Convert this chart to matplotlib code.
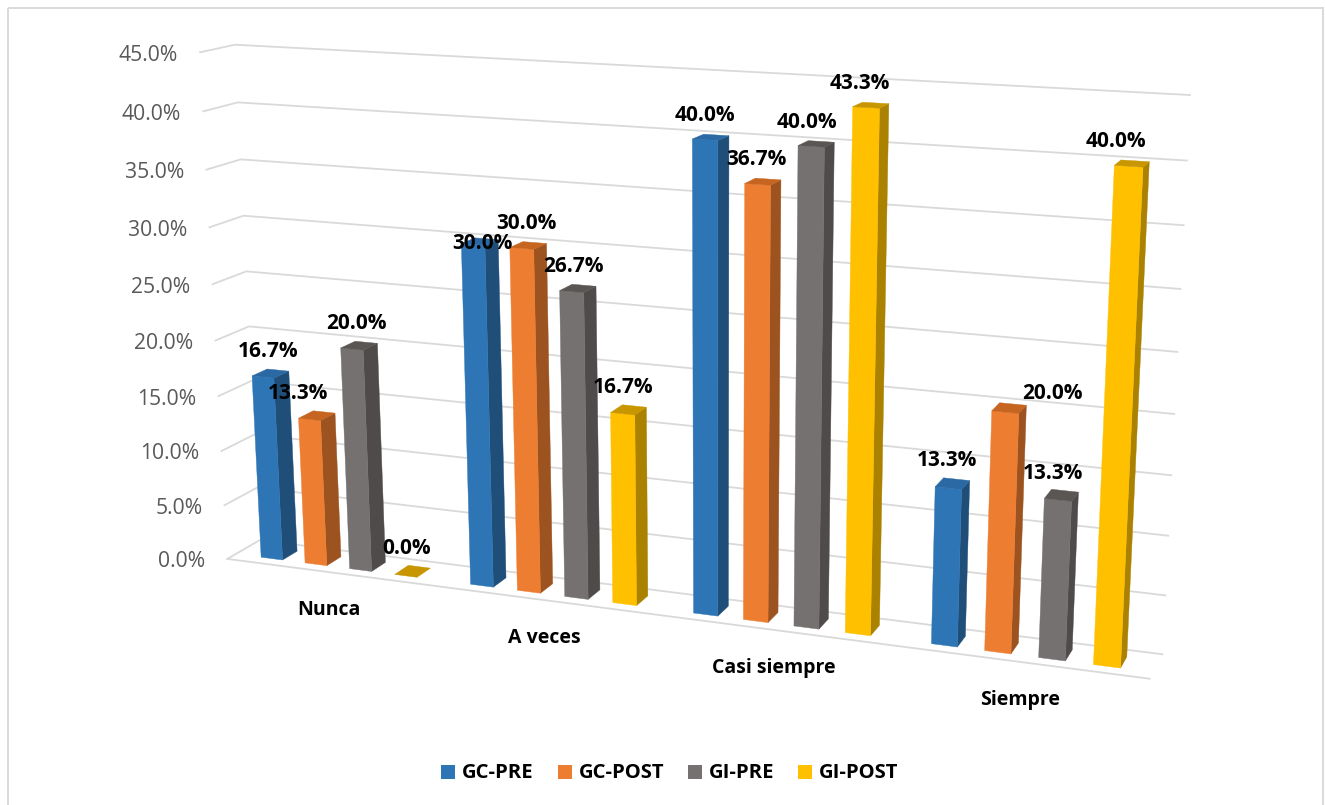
import numpy as np
import matplotlib
matplotlib.use('Agg')
import matplotlib.pyplot as plt
from matplotlib.patches import Polygon, Rectangle

categories = ['Nunca', 'A veces', 'Casi siempre', 'Siempre']
series_names = ['GC-PRE', 'GC-POST', 'GI-PRE', 'GI-POST']
gc_pre = [16.7, 30.0, 40.0, 13.3]
gc_post = [13.3, 30.0, 36.7, 20.0]
gi_pre = [20.0, 26.7, 40.0, 13.3]
gi_post = [0.0, 16.7, 43.3, 40.0]
ticks = [0, 5, 10, 15, 20, 25, 30, 35, 40, 45]

# (front, side, top) shade per series
colors = [('#2E75B6', '#1F4E79', '#2A69A4'),
          ('#ED7D31', '#9C531F', '#C5651F'),
          ('#767171', '#4F4B4A', '#5A5654'),
          ('#FFC000', '#AB8100', '#C79600')]

# label offset from the bar top, in pixels
label_nudge = [[(-2, -22), (-19, -22), (-3, -22), (-6, -23)],
               [(3, 2), (-2, -22), (-4, -22), (-5, -22)],
               [(-6, -22), (-6, -22), (-9, -21), (-11, -22)],
               [(-6, -23), (43, -15), (-8, -22), (-16, -22)]]

# camera fit: (category, depth, value) -> pixel
world = [(0, 0, 0), (4, 0, 0), (0, 1, 0), (4, 1, 0), (0, 1, 45), (4, 1, 45), (0, 0, 45)]
pixel = [(227, 558), (1150, 679), (260, 541), (1162, 654), (235, 44), (1190, 95), (200, 53)]

rows, rhs = [], []
for (x, y, z), (u, v) in zip(world, pixel):
    rows.append([x, y, z, 1, 0, 0, 0, 0, -u * x, -u * y, -u * z])
    rows.append([0, 0, 0, 0, x, y, z, 1, -v * x, -v * y, -v * z])
    rhs += [u, v]
cam = np.append(np.linalg.lstsq(np.array(rows, float), np.array(rhs, float), rcond=None)[0], 1).reshape(3, 4)


def proj(x, y, z):
    p = cam @ np.array([x, y, z, 1.0])
    return p[0] / p[2], p[1] / p[2]


fig = plt.figure(figsize=(13.25, 8.05), dpi=100)
ax = fig.add_axes([0, 0, 1, 1])
ax.set_xlim(0, 1325)
ax.set_ylim(805, 0)
ax.axis('off')

ax.add_patch(Rectangle((8, 8), 1315, 800, fill=False, ec='#D9D9D9', lw=1.4))

# gridlines wrap round the side wall and the back wall
for t in ticks:
    pts = [proj(0, 0, t), proj(0, 1, t), proj(4, 1, t)]
    ax.plot(*zip(*pts), color='#D9D9D9', lw=1.3, zorder=1)
    fx, fy = pts[0]
    ax.text(fx - 22, fy + 3, f'{t:.1f}%', ha='right', va='center', color='#595959',
            fontsize=15.2, family='Open Sans')
ax.plot(*zip(proj(0, 0, 0), proj(4, 0, 0)), color='#D9D9D9', lw=1.3, zorder=1)

# bar layout inside one category, in category units
margin = 0.125
step = 0.215
width = 0.105
d0, d1 = 0.26, 0.72

all_series = [gc_pre, gc_post, gi_pre, gi_post]
order = 2
for i, cat in enumerate(categories):
    for j, vals in enumerate(all_series):
        v = vals[i]
        x0 = i + margin + j * step
        x1 = x0 + width
        front, side, top = colors[j]
        if v > 0:
            ax.add_patch(Polygon([proj(x1, d0, 0), proj(x1, d1, 0), proj(x1, d1, v), proj(x1, d0, v)],
                                 fc=side, ec=side, lw=0.3, zorder=order))
            ax.add_patch(Polygon([proj(x0, d0, 0), proj(x1, d0, 0), proj(x1, d0, v), proj(x0, d0, v)],
                                 fc=front, ec=front, lw=0.3, zorder=order))
        ax.add_patch(Polygon([proj(x0, d0, v), proj(x1, d0, v), proj(x1, d1, v), proj(x0, d1, v)],
                             fc=top, ec=top, lw=0.3, zorder=order))
        order += 1

        tx, ty = proj((x0 + x1) / 2, (d0 + d1) / 2, v)
        dx, dy = label_nudge[i][j]
        ax.text(tx + dx, ty + dy, f'{v:.1f}%', ha='center', va='center', color='black',
                fontsize=15, fontweight='bold', family='Open Sans', zorder=50)

    cx, cy = proj(i + 0.5, 0, 0)
    ax.text(cx - 1, cy + 38, cat, ha='center', va='center', color='black',
            fontsize=14, fontweight='bold', family='Open Sans', zorder=50)

# legend
swatch_x = [441, 558, 688, 798]
for sx, name, c in zip(swatch_x, series_names, colors):
    ax.add_patch(Rectangle((sx, 765), 14, 14, fc=c[0], ec='none'))
    ax.text(sx + 21, 773, name, ha='left', va='center', color='black',
            fontsize=14.6, fontweight='bold', family='Open Sans')

fig.savefig('out.png', dpi=100)
